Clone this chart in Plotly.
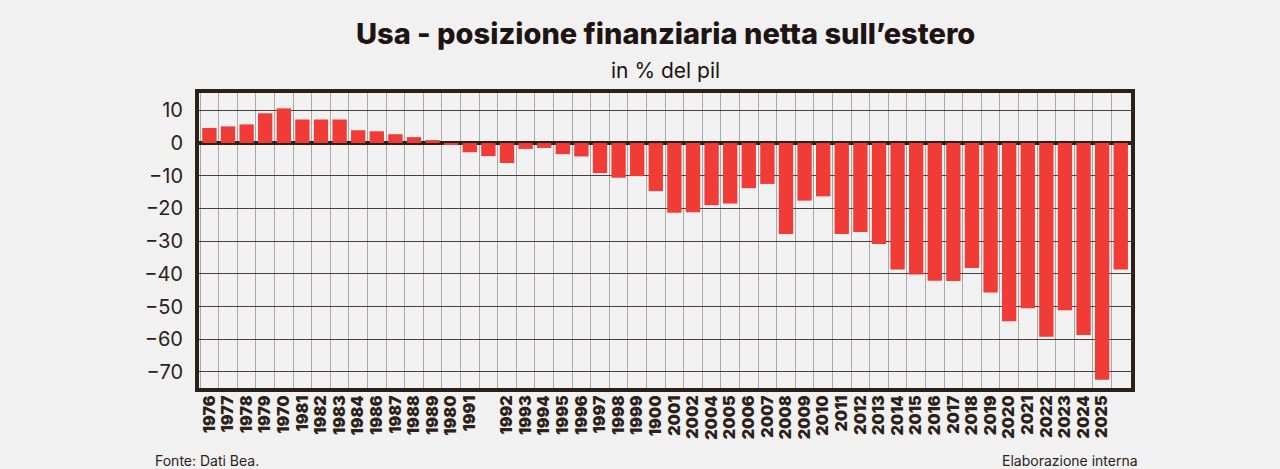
import plotly.graph_objects as go

# dati (% del pil)
valori = [
    4.6, 5.1, 5.7, 9.1, 10.6, 7.2, 7.2, 7.2, 3.9, 3.6,
    2.7, 1.8, 0.9, -0.4, -2.8, -4.0, -6.1, -1.8, -1.5, -3.4,
    -4.1, -9.2, -10.6, -10.1, -14.7, -21.3, -21.2, -19.0, -18.5, -13.8,
    -12.5, -27.8, -17.6, -16.3, -27.8, -27.2, -30.9, -38.7, -40.2, -42.1,
    -42.2, -38.2, -45.7, -54.5, -50.5, -59.2, -51.1, -58.7, -72.4, -38.7,
]
posizioni = list(range(len(valori)))

# etichette dell'asse x così come compaiono (due barre senza etichetta)
etichette = [
    "1976", "1977", "1978", "1979", "1970", "1981", "1982", "1983", "1984", "1986",
    "1987", "1988", "1989", "1980", "1991", "1992", "1993", "1994", "1995", "1996",
    "1997", "1998", "1999", "1900", "2001", "2002", "2004", "2005", "2006", "2007",
    "2008", "2009", "2010", "2011", "2012", "2013", "2014", "2015", "2016", "2017",
    "2018", "2019", "2020", "2021", "2022", "2023", "2024", "2025",
]
pos_etichette = list(range(0, 15)) + list(range(16, 49))

y_ticks = [10, 0, -10, -20, -30, -40, -50, -60, -70]

SCURO = "#2b2119"
ROSSO = "#f03b37"
SFONDO = "#f1f1f1"

fig = go.Figure()

fig.add_trace(go.Bar(
    x=posizioni, y=valori,
    marker=dict(color=ROSSO, line=dict(width=0)),
    width=0.77,
    hoverinfo="y",
))

fig.update_layout(
    width=1280, height=469,
    paper_bgcolor=SFONDO, plot_bgcolor=SFONDO,
    margin=dict(l=199, r=149, t=93, b=81),
    showlegend=False,
    font=dict(family="Inter, sans-serif", color=SCURO),
)

fig.update_xaxes(
    range=[-0.56, 49.55],
    tickmode="array", tickvals=pos_etichette, ticktext=etichette,
    tickangle=-90,
    tickfont=dict(family="Inter", size=16, color=SCURO, weight=900),
    showgrid=False,
    minor=dict(tick0=0.5, dtick=1, showgrid=True, gridcolor="#aaa7a7", gridwidth=1, ticklen=0),
    showline=True, linecolor=SCURO, linewidth=4, mirror=True,
    ticks="", zeroline=False, ticklabelstandoff=-3,
)

fig.update_yaxes(
    range=[-74.9, 15.3],
    tickmode="array", tickvals=y_ticks,
    tickfont=dict(family="Inter", size=20, color=SCURO),
    showgrid=True, gridcolor="#4a3f3c", gridwidth=1,
    zeroline=True, zerolinecolor=SCURO, zerolinewidth=4,
    showline=True, linecolor=SCURO, linewidth=4, mirror=True,
    ticks="", ticklabelstandoff=8,
)

fig.add_annotation(
    text="Usa - posizione finanziaria netta sull’estero",
    xref="paper", yref="paper", x=0.5, y=1, xanchor="center", yanchor="middle",
    yshift=60, showarrow=False,
    font=dict(family="Inter", size=29, color="#1f1414", weight=800),
)
fig.add_annotation(
    text="in % del pil",
    xref="paper", yref="paper", x=0.5, y=1, xanchor="center", yanchor="middle",
    yshift=23, showarrow=False,
    font=dict(family="Inter", size=21, color="#1f1414"),
)
fig.add_annotation(
    text="Fonte: Dati Bea.",
    xref="paper", yref="paper", x=0, y=0, xanchor="left", yanchor="middle",
    xshift=-46, yshift=-72, showarrow=False,
    font=dict(family="Inter", size=14, color=SCURO),
)
fig.add_annotation(
    text="Elaborazione interna",
    xref="paper", yref="paper", x=1, y=0, xanchor="right", yanchor="middle",
    xshift=9, yshift=-72, showarrow=False,
    font=dict(family="Inter", size=14, color=SCURO),
)

fig.write_html(
    "out.html",
    config={"displayModeBar": False},
    post_script="document.body.style.margin='0';document.body.style.background='#f1f1f1';",
)
